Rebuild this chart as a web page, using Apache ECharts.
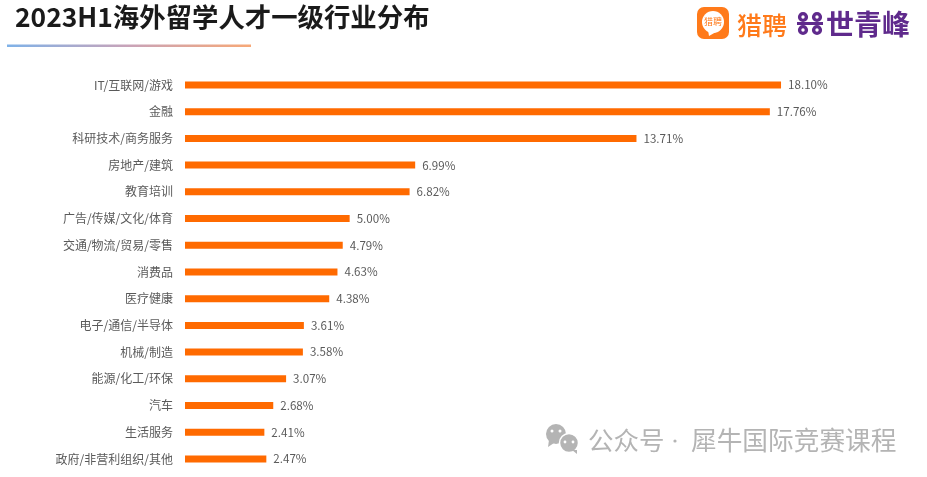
<!DOCTYPE html>
<html>
<head>
<meta charset="utf-8">
<style>
  html, body { margin: 0; padding: 0; background: #fff; }
  #chart { width: 927px; height: 477px; filter: blur(0.4px); }
</style>
<script src="https://cdn.jsdelivr.net/npm/echarts@6/dist/echarts.min.js"></script>
</head>
<body>
<div id="chart"></div>
<script>
var FONT = '"Noto Sans CJK SC", sans-serif';

var categories = ['IT/互联网/游戏', '金融', '科研技术/商务服务', '房地产/建筑', '教育培训',
  '广告/传媒/文化/体育', '交通/物流/贸易/零售', '消费品', '医疗健康', '电子/通信/半导体',
  '机械/制造', '能源/化工/环保', '汽车', '生活服务', '政府/非营利组织/其他'];
var shares = [18.10, 17.76, 13.71, 6.99, 6.82, 5.00, 4.79, 4.63, 4.38, 3.61, 3.58, 3.07, 2.68, 2.41, 2.47];

var titleText = '2023H1海外留学人才一级行业分布';
var watermarkLeft = '公众号';
var watermarkRight = '犀牛国际竞赛课程';

var myChart = echarts.init(document.getElementById('chart'));

var option = {
  animation: false,
  backgroundColor: '#fff',
  title: {
    text: titleText,
    left: 10,
    top: -1,
    textStyle: { fontFamily: FONT, fontSize: 26.4, fontWeight: 'bold', color: '#1a1a1a' }
  },
  grid: { left: 185, top: 71.6, width: 658.6, height: 400.7 },
  xAxis: { type: 'value', min: 0, max: 20, show: false },
  yAxis: {
    type: 'category',
    inverse: true,
    data: categories,
    axisLine: { show: false },
    axisTick: { show: false },
    axisLabel: { margin: 12, fontFamily: FONT, fontSize: 12, color: '#5a5a5a' }
  },
  series: [{
    type: 'bar',
    data: shares,
    barWidth: 7,
    itemStyle: { color: '#ff6a00' },
    label: {
      show: true,
      position: 'right',
      distance: 7,
      fontFamily: FONT,
      fontSize: 11.6,
      color: '#5a5a5a',
      formatter: function (p) { return p.value.toFixed(2) + '%'; }
    }
  }],
  graphic: [
    // 标题下划线
    {
      type: 'rect',
      shape: { x: 7, y: 44.5, width: 244, height: 2.5 },
      style: {
        fill: new echarts.graphic.LinearGradient(0, 0, 1, 0, [
          { offset: 0, color: '#7fb2e8' },
          { offset: 0.5, color: '#c9a3b8' },
          { offset: 1, color: '#f7a877' }
        ])
      }
    },
    // 猎聘 logo
    { type: 'rect', shape: { x: 697, y: 7, width: 32, height: 32, r: 7 }, style: { fill: '#ff7a1a' } },
    { type: 'circle', shape: { cx: 713, cy: 22, r: 11 }, style: { fill: '#fff' } },
    { type: 'polygon', shape: { points: [[708, 30], [716, 32], [709, 36]] }, style: { fill: '#fff' } },
    { type: 'text', style: { x: 713, y: 22, text: '猎聘', align: 'center', verticalAlign: 'middle', font: '9px ' + FONT, fill: '#ff7a1a' } },
    { type: 'text', style: { x: 737, y: 25, text: '猎聘', verticalAlign: 'middle', font: '500 25px ' + FONT, fill: '#ff7a1a' } },
    // 世青峰 logo
    { type: 'circle', shape: { cx: 803, cy: 17, r: 3.4 }, style: { fill: 'none', stroke: '#5f2a8c', lineWidth: 3.4 } },
    { type: 'circle', shape: { cx: 817, cy: 17, r: 3.4 }, style: { fill: 'none', stroke: '#5f2a8c', lineWidth: 3.4 } },
    { type: 'circle', shape: { cx: 803, cy: 30, r: 3.4 }, style: { fill: 'none', stroke: '#5f2a8c', lineWidth: 3.4 } },
    { type: 'circle', shape: { cx: 817, cy: 30, r: 3.4 }, style: { fill: 'none', stroke: '#5f2a8c', lineWidth: 3.4 } },
    { type: 'rect', shape: { x: 797, y: 22, width: 26, height: 3 }, style: { fill: '#5f2a8c' } },
    { type: 'text', style: { x: 826, y: 24, text: '世青峰', verticalAlign: 'middle', font: 'bold 28px ' + FONT, fill: '#5f2a8c' } },
    // 水印
    { type: 'circle', shape: { cx: 556, cy: 434, r: 10 }, style: { fill: '#b4b4b4' } },
    { type: 'polygon', shape: { points: [[549, 440], [554, 443], [548, 447]] }, style: { fill: '#b4b4b4' } },
    { type: 'circle', shape: { cx: 569, cy: 443, r: 9.5 }, style: { fill: '#b4b4b4', stroke: '#fff', lineWidth: 1.5 } },
    { type: 'polygon', shape: { points: [[572, 450], [577, 450], [577, 454]] }, style: { fill: '#b4b4b4' } },
    { type: 'circle', shape: { cx: 552, cy: 431, r: 1.5 }, style: { fill: '#fff' } },
    { type: 'circle', shape: { cx: 560, cy: 431, r: 1.5 }, style: { fill: '#fff' } },
    { type: 'circle', shape: { cx: 565, cy: 442, r: 1.4 }, style: { fill: '#fff' } },
    { type: 'circle', shape: { cx: 573, cy: 442, r: 1.4 }, style: { fill: '#fff' } },
    { type: 'text', style: { x: 588, y: 440, text: watermarkLeft, verticalAlign: 'middle', font: '25.5px ' + FONT, fill: '#b4b4b4' } },
    { type: 'circle', shape: { cx: 675, cy: 441, r: 1.6 }, style: { fill: '#b4b4b4' } },
    { type: 'text', style: { x: 691, y: 440, text: watermarkRight, verticalAlign: 'middle', font: '25.7px ' + FONT, fill: '#b4b4b4' } }
  ]
};

option && myChart.setOption(option);
</script>
</body>
</html>
